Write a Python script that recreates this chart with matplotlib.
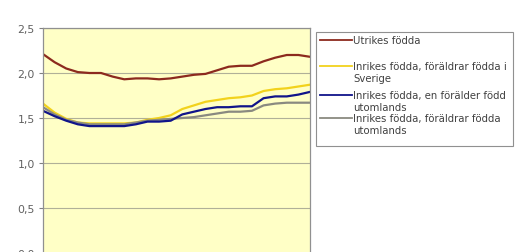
import numpy as np
import matplotlib
matplotlib.use('Agg')
import matplotlib.pyplot as plt
from matplotlib.lines import Line2D
from matplotlib.patches import Rectangle

# Series values (x axis is cut off in the reference)
points = list(range(24))
utrikes = [2.21, 2.12, 2.05, 2.01, 2.00, 2.00, 1.96, 1.93, 1.94, 1.94, 1.93, 1.94,
           1.96, 1.98, 1.99, 2.03, 2.07, 2.08, 2.08, 2.13, 2.17, 2.20, 2.20, 2.18]
inrikes_sverige = [1.66, 1.56, 1.49, 1.45, 1.44, 1.44, 1.44, 1.44, 1.45, 1.48, 1.50, 1.53,
                   1.60, 1.64, 1.68, 1.70, 1.72, 1.73, 1.75, 1.80, 1.82, 1.83, 1.85, 1.87]
inrikes_en = [1.58, 1.52, 1.47, 1.43, 1.41, 1.41, 1.41, 1.41, 1.43, 1.46, 1.46, 1.47,
              1.54, 1.57, 1.60, 1.62, 1.62, 1.63, 1.63, 1.72, 1.74, 1.74, 1.76, 1.79]
inrikes_utl = [1.62, 1.54, 1.48, 1.45, 1.43, 1.43, 1.43, 1.43, 1.45, 1.47, 1.48, 1.49,
               1.50, 1.51, 1.53, 1.55, 1.57, 1.57, 1.58, 1.64, 1.66, 1.67, 1.67, 1.67]

labels = ['Utrikes födda',
          'Inrikes födda, föräldrar födda i\nSverige',
          'Inrikes födda, en förälder född\nutomlands',
          'Inrikes födda, föräldrar födda\nutomlands']
colors = ['#8c2a1e', '#f2d21c', '#10148a', '#8a8a80']
yticks = [0.0, 0.5, 1.0, 1.5, 2.0, 2.5]
ytick_labels = ['0,0', '0,5', '1,0', '1,5', '2,0', '2,5']

plt.rcParams['font.family'] = ['DejaVu Sans']

fig = plt.figure(figsize=(5.25, 2.53), dpi=100)
ax = fig.add_axes([43 / 525, -1 / 253, 267 / 525, 225 / 253])
ax.set_facecolor('#ffffc6')

for series, color in zip([utrikes, inrikes_sverige, inrikes_utl, inrikes_en],
                         [colors[0], colors[1], colors[3], colors[2]]):
    ax.plot(points, series, color=color, lw=1.6, solid_joinstyle='round')

ax.set_xlim(points[0], points[-1])
ax.set_ylim(0, 2.5)
ax.set_yticks(yticks)
ax.set_yticklabels(ytick_labels, fontsize=7.8, color='#606060')
ax.set_xticks([])
ax.tick_params(axis='y', length=3, color='#808080', pad=3)
ax.grid(True, axis='y', color='#b0b098', lw=0.8)
ax.set_axisbelow(True)
for s in ax.spines.values():
    s.set_color('#909090')
    s.set_linewidth(0.9)

# legend box drawn by hand to match the wrapped labels
W, H = 525, 253
box = Rectangle((316 / W, 1 - 147 / H), 197 / W, 114 / H, transform=fig.transFigure,
                facecolor='white', edgecolor='#909090', lw=0.8)
fig.add_artist(box)
entry_y = [41, 67, 96, 119]
for lab, color, y in zip(labels, colors, entry_y):
    fig.add_artist(Line2D([320 / W, 352 / W], [1 - y / H, 1 - y / H],
                          transform=fig.transFigure, color=color, lw=1.3))
    fig.text(353 / W, 1 - (y - 5) / H, lab, fontsize=7.3, color='#404040',
             va='top', ha='left', linespacing=1.25)

fig.savefig('out.png', dpi=100)
